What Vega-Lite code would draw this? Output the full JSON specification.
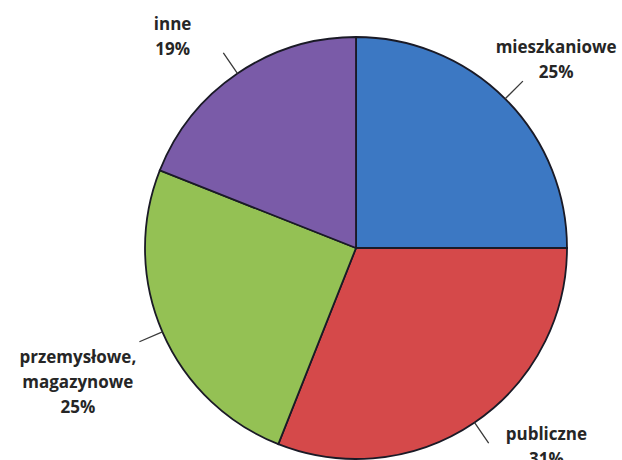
{
  "$schema": "https://vega.github.io/schema/vega-lite/v6.json",
  "autosize": "none",
  "width": 422,
  "height": 422,
  "padding": {"left": 145, "top": 37, "right": 55, "bottom": 1},
  "background": "white",
  "config": {"view": {"stroke": null}, "font": "Open Sans"},
  "data": {"values": [
    {"kategoria": "mieszkaniowe", "etykieta": "mieszkaniowe\n25%", "udzial": 25, "kolejnosc": 1},
    {"kategoria": "publiczne", "etykieta": "publiczne\n31%", "udzial": 31, "kolejnosc": 2},
    {"kategoria": "przemysłowe, magazynowe", "etykieta": "przemysłowe,\nmagazynowe\n25%", "udzial": 25, "kolejnosc": 3},
    {"kategoria": "inne", "etykieta": "inne\n19%", "udzial": 19, "kolejnosc": 4}
  ]},
  "encoding": {
    "theta": {"field": "udzial", "type": "quantitative", "stack": true},
    "order": {"field": "kolejnosc", "type": "quantitative"}
  },
  "layer": [
    {
      "mark": {"type": "arc", "stroke": "#1a1a26", "strokeWidth": 1.8},
      "encoding": {
        "color": {
          "field": "kategoria", "type": "nominal",
          "scale": {
            "domain": ["mieszkaniowe", "publiczne", "przemysłowe, magazynowe", "inne"],
            "range": ["#3c78c3", "#d5494a", "#94c154", "#7a5ba8"]
          },
          "legend": null
        }
      }
    },
    {
      "mark": {"type": "arc", "radius": 236, "radius2": 211, "padAngle": 3, "filled": false, "stroke": "#3a3a3a", "strokeWidth": 1.3}
    },
    {
      "mark": {"type": "text", "radius": 276, "dx": 5, "align": "center", "baseline": "alphabetic", "lineBreak": "\n", "lineHeight": 25, "fontSize": 17, "fontWeight": "bold", "fill": "#262626"},
      "encoding": {"text": {"condition": {"test": "datum.kategoria === 'mieszkaniowe'", "field": "etykieta"}, "value": ""}}
    },
    {
      "mark": {"type": "text", "radius": 232, "dx": 60, "align": "center", "baseline": "alphabetic", "lineBreak": "\n", "lineHeight": 25, "fontSize": 17, "fontWeight": "bold", "fill": "#262626"},
      "encoding": {"text": {"condition": {"test": "datum.kategoria === 'publiczne'", "field": "etykieta"}, "value": ""}}
    },
    {
      "mark": {"type": "text", "radius": 290, "dx": -12, "align": "center", "baseline": "alphabetic", "lineBreak": "\n", "lineHeight": 25, "fontSize": 17, "fontWeight": "bold", "fill": "#262626"},
      "encoding": {"text": {"condition": {"test": "datum.kategoria === 'przemysłowe, magazynowe'", "field": "etykieta"}, "value": ""}}
    },
    {
      "mark": {"type": "text", "radius": 264, "dx": -35, "align": "center", "baseline": "alphabetic", "lineBreak": "\n", "lineHeight": 25, "fontSize": 17, "fontWeight": "bold", "fill": "#262626"},
      "encoding": {"text": {"condition": {"test": "datum.kategoria === 'inne'", "field": "etykieta"}, "value": ""}}
    }
  ]
}
